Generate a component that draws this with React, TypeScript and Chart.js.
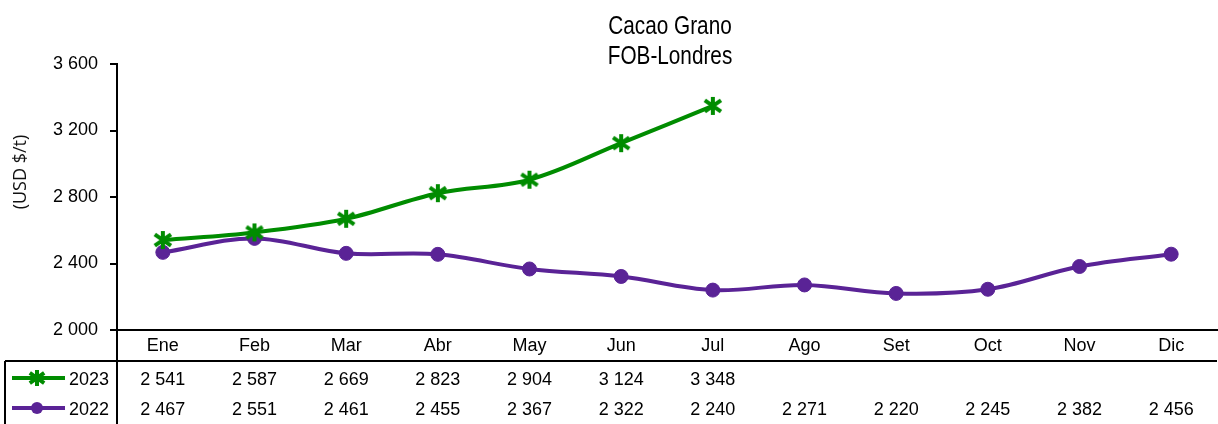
import React, { useEffect, useRef } from 'react';
import { Chart, registerables } from 'chart.js';

Chart.register(...registerables);

const months = ['Ene', 'Feb', 'Mar', 'Abr', 'May', 'Jun', 'Jul', 'Ago', 'Set', 'Oct', 'Nov', 'Dic'];
const values2023 = [2541, 2587, 2669, 2823, 2904, 3124, 3348];
const values2022 = [2467, 2551, 2461, 2455, 2367, 2322, 2240, 2271, 2220, 2245, 2382, 2456];
const yMin = 2000;
const yMax = 3600;
const yStep = 400;
const titleLines = ['Cacao Grano', 'FOB-Londres'];
const yTitle = '(USD $/t)';
const seriesNames = ['2023', '2022'];
const seriesColors = ['#008c00', '#5a2396'];

const FONT = '"Liberation Sans", Arial, sans-serif';

function fmt(v: number): string {
  return String(v).replace(/\B(?=(\d{3})+(?!\d))/g, ' ');
}

const W = 1218;
const H = 424;

function drawStar(ctx: CanvasRenderingContext2D, x: number, y: number, r: number, color: string) {
  ctx.save();
  ctx.strokeStyle = color;
  ctx.lineWidth = 4;
  ctx.lineCap = 'butt';
  const d = r * 0.9;
  ctx.beginPath();
  ctx.moveTo(x, y - r);
  ctx.lineTo(x, y + r);
  ctx.moveTo(x - d, y - d * 0.7);
  ctx.lineTo(x + d, y + d * 0.7);
  ctx.moveTo(x - d, y + d * 0.7);
  ctx.lineTo(x + d, y - d * 0.7);
  ctx.stroke();
  ctx.restore();
}

function drawCircle(ctx: CanvasRenderingContext2D, x: number, y: number, r: number, color: string) {
  ctx.save();
  ctx.fillStyle = color;
  ctx.beginPath();
  ctx.arc(x, y, r, 0, Math.PI * 2);
  ctx.fill();
  ctx.restore();
}

function makeStarImage(color: string, r: number): HTMLCanvasElement {
  const size = Math.ceil(r * 2 + 6);
  const c = document.createElement('canvas');
  c.width = size;
  c.height = size;
  const cx = c.getContext('2d')!;
  drawStar(cx, size / 2, size / 2, r, color);
  return c;
}

export default function App() {
  const ref = useRef<HTMLCanvasElement | null>(null);

  useEffect(() => {
    document.body.style.margin = '0';
    const canvas = ref.current;
    if (!canvas) return;

    const starImg = makeStarImage(seriesColors[0], 9);

    const tablePlugin = {
      id: 'tablePlugin',
      afterDraw(chart: any) {
        const ctx = chart.ctx;
        const area = chart.chartArea;
        const xs = chart.scales.x;
        ctx.save();
        // Title (condensed)
        ctx.fillStyle = '#000';
        ctx.font = `25px ${FONT}`;
        ctx.textAlign = 'center';
        ctx.textBaseline = 'middle';
        const cx = (area.left + area.right) / 2 + 3;
        const sx = 0.83;
        ctx.save();
        ctx.scale(sx, 1);
        ctx.fillText(titleLines[0], cx / sx, 27);
        ctx.fillText(titleLines[1], cx / sx, 57);
        ctx.restore();
        // Y title
        ctx.save();
        ctx.translate(21, 172);
        ctx.rotate(-Math.PI / 2);
        ctx.font = '18px "Open Sans", "DejaVu Sans", sans-serif';
        ctx.fillStyle = '#111';
        ctx.fillText(yTitle, 0, 0);
        ctx.restore();

        // Table lines
        ctx.strokeStyle = '#000';
        ctx.lineWidth = 2;
        ctx.beginPath();
        ctx.moveTo(area.left, area.bottom);
        ctx.lineTo(area.left, H);
        ctx.moveTo(5, 361);
        ctx.lineTo(area.right, 361);
        ctx.moveTo(5, 361);
        ctx.lineTo(5, H);
        ctx.stroke();

        const rowsY = [380, 410];
        const seriesVals = [values2023, values2022];
        ctx.font = `18px ${FONT}`;
        for (let r = 0; r < 2; r++) {
          const y = rowsY[r];
          ctx.fillStyle = '#000';
          ctx.textAlign = 'center';
          seriesVals[r].forEach((v, i) => {
            ctx.fillText(fmt(v), xs.getPixelForValue(i), y);
          });
          // legend key
          ctx.strokeStyle = seriesColors[r];
          ctx.lineWidth = 4;
          ctx.beginPath();
          ctx.moveTo(12, y - 2);
          ctx.lineTo(65, y - 2);
          ctx.stroke();
          if (r === 0) drawStar(ctx, 37, y - 2, 8, seriesColors[r]);
          else drawCircle(ctx, 37, y - 2, 6, seriesColors[r]);
          ctx.fillStyle = '#000';
          ctx.textAlign = 'right';
          ctx.fillText(seriesNames[r], 109, y);
        }
        ctx.restore();
      },
    };

    const chart = new Chart(canvas, {
      type: 'line',
      data: {
        labels: months,
        datasets: [
          {
            label: seriesNames[0],
            data: values2023,
            borderColor: seriesColors[0],
            backgroundColor: seriesColors[0],
            pointStyle: starImg as any,
            pointRadius: 9,
            borderWidth: 4,
            tension: 0.35,
          },
          {
            label: seriesNames[1],
            data: values2022,
            borderColor: seriesColors[1],
            backgroundColor: seriesColors[1],
            pointStyle: 'circle',
            pointRadius: 7,
            pointBorderWidth: 1,
            borderWidth: 4,
            tension: 0.35,
          },
        ],
      },
      options: {
        responsive: false,
        animation: false,
        layout: { autoPadding: false, padding: { top: 64, right: 1, left: 0, bottom: 0 } },
        plugins: {
          legend: { display: false },
          title: { display: false },
          tooltip: { enabled: false },
        },
        scales: {
          x: {
            offset: true,
            grid: { display: true, drawOnChartArea: false, drawTicks: false, color: 'rgba(0,0,0,0)' },
            border: { display: true, color: '#000', width: 2 },
            ticks: { color: '#000', font: { family: FONT, size: 18 }, padding: 5, maxRotation: 0, autoSkip: false },
            afterFit(s: any) {
              s.height = H - 330;
              s.paddingLeft = 0;
              s.paddingRight = 0;
            },
          },
          y: {
            min: yMin,
            max: yMax,
            grid: { display: true, drawOnChartArea: false, drawTicks: true, tickLength: 7, color: '#000', lineWidth: 2 },
            border: { display: true, color: '#000', width: 2 },
            ticks: {
              stepSize: yStep,
              color: '#000',
              font: { family: FONT, size: 18 },
              padding: 12,
              callback: (v: any) => fmt(Number(v)),
            },
            afterFit(s: any) {
              s.width = 117;
            },
          },
        },
      },
      plugins: [tablePlugin],
    });
    return () => chart.destroy();
  }, []);

  return <canvas ref={ref} width={W} height={H} style={{ display: 'block' }} />;
}
